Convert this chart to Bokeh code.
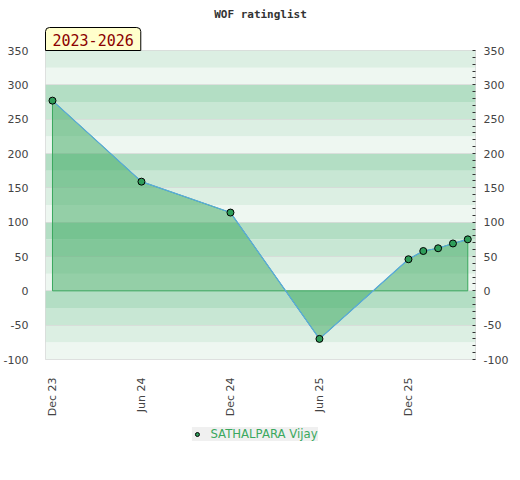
import math
from bokeh.plotting import figure
from bokeh.layouts import column
from bokeh.models import (Range1d, LinearAxis, FixedTicker, BoxAnnotation, Title,
                          Legend, LegendItem)
from bokeh.embed import file_html
from bokeh.resources import INLINE

title_text = "WOF ratinglist"
period_text = "2023-2026"
player = "SATHALPARA Vijay"
months = ["2023-12", "2024-06", "2024-12", "2025-06", "2025-12",
          "2026-01", "2026-02", "2026-03", "2026-04"]
ratings = [277, 159, 114, -70, 46, 58, 62, 69, 75]
tick_months = ["2023-12", "2024-06", "2024-12", "2025-06", "2025-12"]
tick_labels = ["Dec 23", "Jun 24", "Dec 24", "Jun 25", "Dec 25"]
y_ticks = [-100, -50, 0, 50, 100, 150, 200, 250, 300, 350]
y_labels = ["-100", "-50", "0", "50", "100", "150", "200", "250", "300", "350"]
band_colors = ["#eef7f1", "#dcefe3", "#c8e7d4", "#b3dec4"]


def midx(s):
    yy, mm = map(int, s.split("-"))
    return (yy - 2023) * 12 + (mm - 12)


x = [midx(s) for s in months]
ticks = [midx(s) for s in tick_months]
ylab = dict(zip(y_ticks, y_labels))

FW, FH = 430, 309
p = figure(frame_width=FW, frame_height=FH, output_backend="svg", toolbar_location=None,
           x_range=Range1d(-0.47, 28.52), y_range=Range1d(-100, 350),
           min_border_left=40, min_border_right=34, min_border_top=0,
           min_border_bottom=58)
p.outline_line_color = "#d8d8d8"
p.background_fill_color = "white"
p.border_fill_color = "white"

# background bands
for b in range(-100, 350, 25):
    p.add_layout(BoxAnnotation(bottom=b, top=b + 25, fill_color=band_colors[(b % 100) // 25],
                               fill_alpha=1, line_color=None, level="image"))

p.xgrid.visible = False
p.ygrid.ticker = FixedTicker(ticks=y_ticks)
p.ygrid.grid_line_color = "#d6d6d6"
p.ygrid.grid_line_alpha = 0.7

# area + line + points
p.patch([x[0]] + x + [x[-1]], [0] + ratings + [0], fill_color="#3aa85e", fill_alpha=0.5,
        line_color="#3aa85e", line_width=1)
p.line(x, ratings, line_color="#5aa9e0", line_width=1.2)
p.scatter(x, ratings, size=7, fill_color="#2f9e5a", line_color="black", line_width=1)

# axes
p.xaxis.ticker = FixedTicker(ticks=ticks)
p.xaxis.major_label_overrides = {t: lab for t, lab in zip(ticks, tick_labels)}
p.xaxis.major_label_orientation = math.pi / 2
p.xaxis.axis_line_color = None
p.xaxis.major_tick_line_color = None
p.xaxis.minor_tick_line_color = None
p.xaxis.major_label_standoff = 12
p.xaxis.major_label_text_font = "DejaVu Sans"
p.xaxis.major_label_text_font_size = "11px"
p.xaxis.major_label_text_color = "#444444"

yl = p.yaxis[0]
yl.ticker = FixedTicker(ticks=y_ticks)
yl.major_label_overrides = ylab
yl.axis_line_color = None
yl.major_tick_line_color = None
yl.minor_tick_line_color = None
yl.major_label_standoff = 11
yl.major_label_text_font = "DejaVu Sans"
yl.major_label_text_font_size = "11px"
yl.major_label_text_color = "#444444"

minor = [v for v in range(-100, 351, 10) if v not in y_ticks]
yr = LinearAxis(ticker=FixedTicker(ticks=y_ticks, minor_ticks=minor))
yr.major_label_overrides = ylab
yr.axis_line_color = None
yr.major_tick_in = 3
yr.major_tick_out = 0
yr.minor_tick_in = 3
yr.minor_tick_out = 0
yr.major_tick_line_color = "#333333"
yr.minor_tick_line_color = "#333333"
yr.major_label_standoff = 8
yr.major_label_text_font = "DejaVu Sans"
yr.major_label_text_font_size = "11px"
yr.major_label_text_color = "#444444"
p.add_layout(yr, "right")

# title and period box
p.title.text = title_text
p.title.align = "center"
p.title.text_font = "DejaVu Sans Mono"
p.title.text_font_style = "bold"
p.title.text_font_size = "11px"
p.title.text_color = "#333333"
p.title.standoff = 10

period = Title(text=period_text, align="left", text_font="DejaVu Sans Mono",
               text_font_size="15px", text_font_style="normal", text_color="#8b0000",
               background_fill_color="#ffffcc", border_line_color="black",
               padding=dict(left=7, right=7, top=6, bottom=5),
               border_radius=dict(top_left=4, top_right=4, bottom_left=0, bottom_right=0),
               standoff=0, offset=0)
p.add_layout(period, "above")

# legend strip below the chart
q = figure(width=500, height=50, output_backend="svg", toolbar_location=None,
           x_range=Range1d(1000, 1001), y_range=Range1d(1000, 1001),
           min_border_left=0, min_border_right=0, min_border_top=0, min_border_bottom=0)
q.axis.visible = False
q.grid.visible = False
q.outline_line_color = None
q.background_fill_color = "white"
q.border_fill_color = "white"
proxy = q.scatter(x=x[:1], y=ratings[:1], size=7, fill_color="#2f9e5a",
                  line_color="black", line_width=1)
legend = Legend(items=[LegendItem(label=player, renderers=[proxy])], location="top_center",
                orientation="horizontal")
legend.background_fill_color = "#f0f0f0"
legend.background_fill_alpha = 1
legend.border_line_color = None
legend.label_text_color = "#3aa85e"
legend.label_text_font = "DejaVu Sans"
legend.label_text_font_size = "11.7px"
legend.glyph_width = 10
legend.glyph_height = 10
legend.label_height = 10
legend.padding = 5
legend.label_standoff = 9
legend.margin = 8
q.add_layout(legend, "center")

open("out.html", "w").write(file_html(column(p, q), INLINE))
